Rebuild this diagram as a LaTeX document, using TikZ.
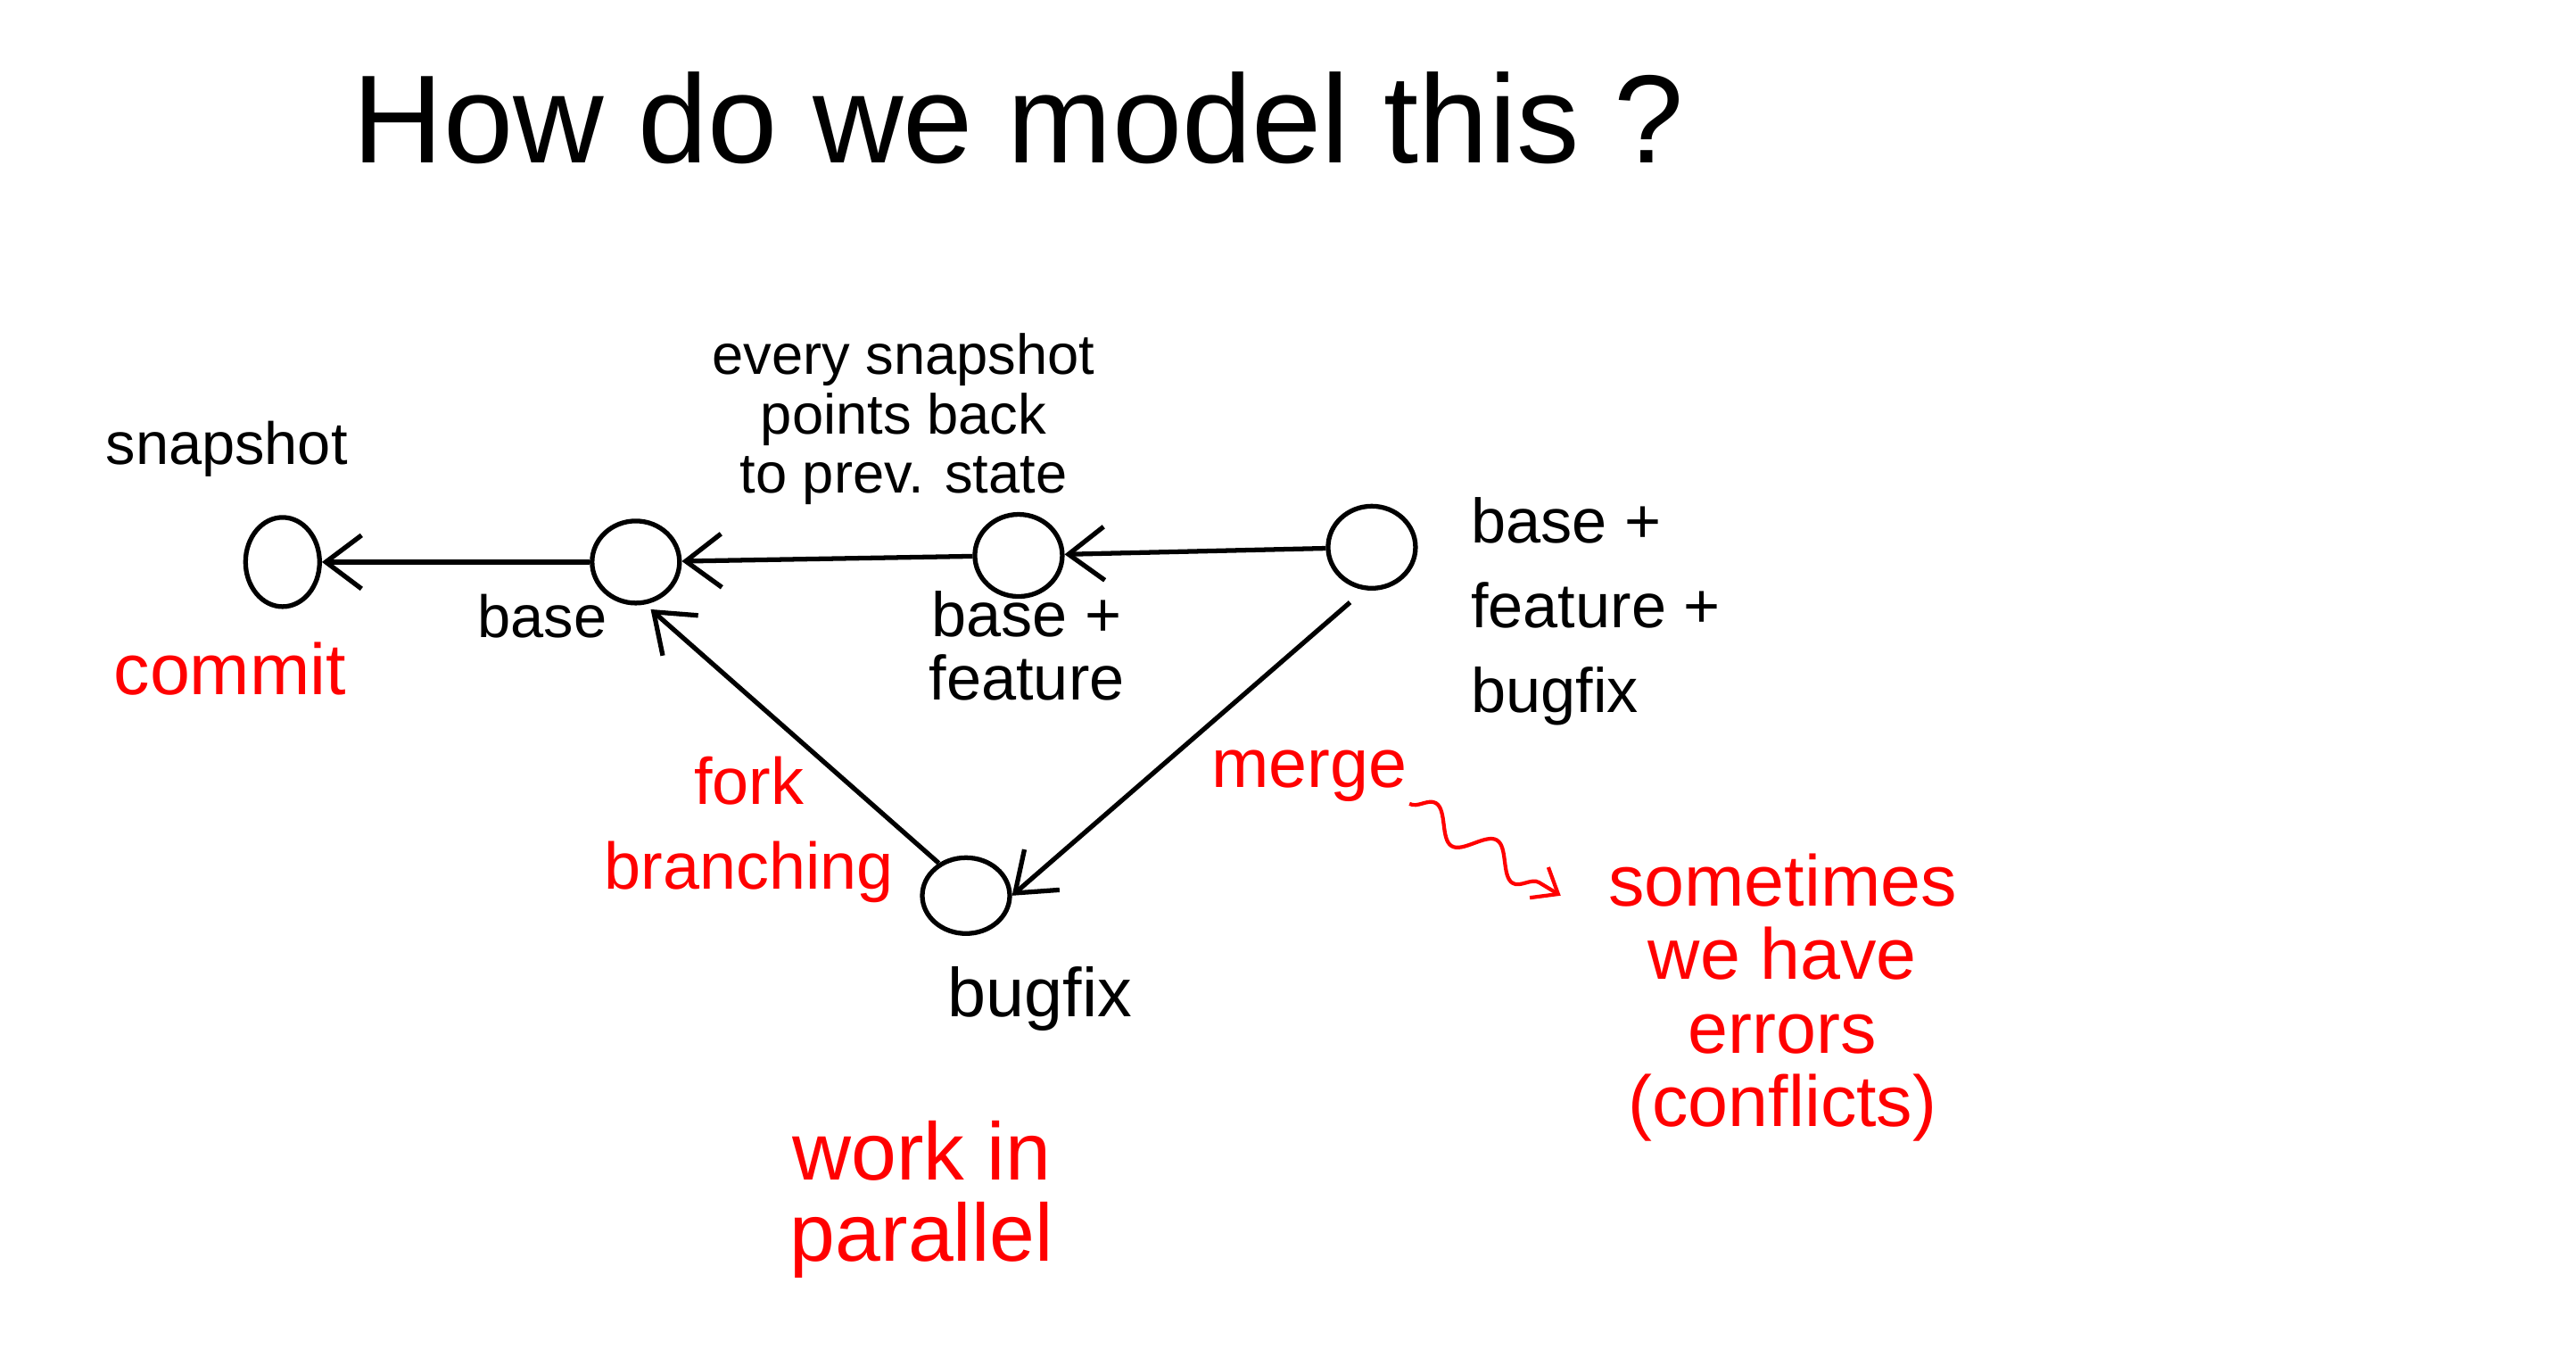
\documentclass[tikz,border=0pt]{standalone}
\usepackage{fontspec}
\setmainfont{Liberation Sans}
\usetikzlibrary{shapes.geometric, arrows.meta, positioning, decorations.pathmorphing}

\begin{document}
\begin{tikzpicture}[x=0.01842cm, y=-0.01842cm, line width=1.5pt]
    \tikzstyle{snap} = [draw, ellipse, minimum width=0.98cm, minimum height=0.92cm, inner sep=0pt]
    \tikzstyle{lbl} = [font=\fontsize{19}{22}\selectfont, inner sep=0pt]
    \tikzstyle{note} = [text=red, font=\fontsize{22}{26}\selectfont, inner sep=0pt]
    \tikzstyle{line} = [draw, -{Straight Barb[length=4mm, width=6mm]}]
    \tikzstyle{squig} = [draw, red, line width=1.2pt, decorate, decoration={snake, amplitude=1.6mm, segment length=8mm, post length=2.5mm}, -{Straight Barb[length=2.5mm, width=4mm]}]

    \useasboundingbox (0,0) rectangle (1568,831);

    \node [font=\fontsize{40}{44}\selectfont] (title) at (620,72) {How do we model this ?};

    % the snapshots
    \node [snap, minimum width=0.83cm, minimum height=1.0cm] (commit) at (172,342) {};
    \node [snap] (base) at (387,342) {};
    \node [snap] (feature) at (620,338) {};
    \node [snap] (merged) at (835,333) {};
    \node [snap, minimum height=0.85cm] (bugfix) at (588,545) {};

    \node [lbl] (snaplbl) at (138,273) {snapshot};
    \node [note, font=\fontsize{23}{26}\selectfont] (commitlbl) at (140,407) {commit};
    \node [lbl] (baselbl) at (330,375) {base};
    \node [lbl, align=center, font=\fontsize{18}{19}\selectfont] (pointlbl) at (550,255) {every snapshot\\points back\\to prev. state};
    \node [lbl, align=center, font=\fontsize{20}{20}\selectfont] (featlbl) at (625,393) {base +\\feature};
    \node [lbl, align=left, anchor=west, font=\fontsize{20}{27}\selectfont] (mergedlbl) at (894,372) {base +\\feature +\\bugfix};
    \node [lbl, font=\fontsize{22}{26}\selectfont] (bugfixlbl) at (633,608) {bugfix};

    \node [note, align=center, font=\fontsize{21}{27}\selectfont] (forklbl) at (456,505) {fork\\branching};
    \node [note] (mergelbl) at (797,472) {merge};
    \node [note, align=center, font=\fontsize{23}{23.5}\selectfont] (conflict) at (1085,607) {sometimes\\we have\\errors\\(conflicts)};
    \node [note, align=center, font=\fontsize{26}{26}\selectfont] (parallel) at (561,730) {work in\\parallel};

    \draw [line] (base) -- (commit);
    \draw [line] (feature) -- (base);
    \draw [line] (merged) -- (feature);
    \draw [line] (bugfix.130) -- ([yshift=-2pt]base.-70);
    \draw [line, shorten <=6pt] (merged.-100) -- (bugfix.east);

    % merge may fail
    \coordinate (sqend) at (950,545);
    \draw [squig] (mergelbl.south east) -- (sqend);
\end{tikzpicture}
\end{document}
